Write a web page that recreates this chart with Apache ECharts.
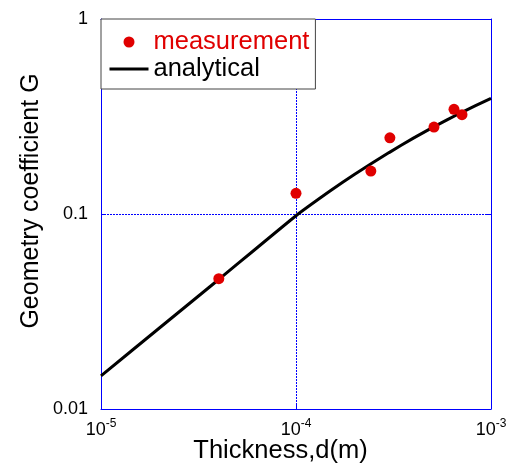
<!DOCTYPE html>
<html>
<head>
<meta charset="utf-8">
<script src="https://cdn.jsdelivr.net/npm/echarts@6/dist/echarts.min.js"></script>
<style>
html,body{margin:0;padding:0;background:#fff;}
#c{width:517px;height:463px;}
</style>
</head>
<body>
<div id="c"></div>
<script>
// Analytical curve: thickness d (m) and geometry coefficient G
const curveD = [1e-5, 2e-5, 4e-5, 1e-4, 1.5e-4, 2e-4, 3e-4, 4e-4, 5e-4, 7e-4, 1e-3];
const curveG = [0.0148, 0.0261, 0.046, 0.098, 0.1315, 0.160, 0.2065, 0.245, 0.2774, 0.3304, 0.392];
// Measurements
const measD = [4.02e-5, 1.0e-4, 2.42e-4, 3.03e-4, 5.1e-4, 6.46e-4, 7.1e-4];
const measG = [0.0466, 0.1276, 0.166, 0.246, 0.279, 0.344, 0.323];
// Tick labels
const xTickExp = {'-5': '-5', '-4': '-4', '-3': '-3'};
const yTickLabels = {'0.01': '0.01', '0.1': '0.1', '1': '1'};
const seriesNames = ['measurement', 'analytical'];

const FONT = '"Liberation Sans", Arial, sans-serif';
const BLUE = '#0000ff';
const RED = '#e00000';

const chart = echarts.init(document.getElementById('c'));
const axisCommon = {
  type: 'log', logBase: 10,
  axisLine: {show: true, lineStyle: {color: BLUE, width: 1}},
  axisTick: {show: true, inside: true, length: 5, lineStyle: {color: BLUE}},
  minorTick: {show: false},
  splitLine: {show: false}
};
chart.setOption({
  animation: false,
  backgroundColor: '#fff',
  grid: {left: 101, right: 26, top: 19, bottom: 54, show: false, containLabel: false, outerBoundsMode: 'none'},
  legend: {
    orient: 'vertical', left: 101, top: 19,
    backgroundColor: '#fff', borderColor: '#444', borderWidth: 1,
    padding: [10, 6, 7, 7], itemGap: 1, itemWidth: 39, itemHeight: 11,
    textStyle: {fontFamily: FONT, fontSize: 25.5, color: '#000'},
    data: [
      {name: seriesNames[0], icon: 'circle', textStyle: {color: RED}},
      {name: seriesNames[1], itemStyle: {opacity: 0}, lineStyle: {color: '#000', width: 3, opacity: 1}}
    ]
  },
  xAxis: [
    Object.assign({}, axisCommon, {
      min: 1e-5, max: 1e-3, position: 'bottom',
      splitLine: {show: true, lineStyle: {color: BLUE, type: [2, 1], width: 1}},
      axisLabel: {
        margin: 9,
        formatter: v => {
          const e = String(Math.round(Math.log10(v)));
          return '{a|10}{b|' + (xTickExp[e] || e) + '}';
        },
        rich: {
          a: {fontFamily: FONT, fontSize: 18, color: '#000'},
          b: {fontFamily: FONT, fontSize: 12, color: '#000', padding: [0, 0, 12, 0]}
        }
      },
      name: 'Thickness,d(m)', nameLocation: 'middle', nameGap: 29, nameMoveOverlap: false,
      nameTextStyle: {fontFamily: FONT, fontSize: 25.5, color: '#000', padding: [0, 31, 0, 0]}
    }),
    Object.assign({}, axisCommon, {
      min: 1e-5, max: 1e-3, position: 'top',
      axisLabel: {show: false}
    })
  ],
  yAxis: [
    Object.assign({}, axisCommon, {
      min: 0.01, max: 1, position: 'left',
      splitLine: {show: true, lineStyle: {color: BLUE, type: [2, 1], width: 1}},
      axisLabel: {
        margin: 13, fontFamily: FONT, fontSize: 18, color: '#000',
        formatter: v => {
          const k = String(+v.toPrecision(3));
          return yTickLabels[k] || k;
        }
      },
      name: 'Geometry coefficient G', nameLocation: 'middle', nameGap: 57, nameMoveOverlap: false,
      nameTextStyle: {fontFamily: FONT, fontSize: 25, color: '#000', padding: [0, 0, 0, 26]}
    }),
    Object.assign({}, axisCommon, {
      min: 0.01, max: 1, position: 'right',
      axisLabel: {show: false}
    })
  ],
  series: [
    {
      name: seriesNames[1], type: 'line', z: 3,
      data: curveD.map((d, i) => [d, curveG[i]]),
      smooth: 0.15, showSymbol: false, symbol: 'none',
      lineStyle: {color: '#000', width: 3},
      itemStyle: {color: '#000'}
    },
    {
      name: seriesNames[0], type: 'scatter', z: 4,
      data: measD.map((d, i) => [d, measG[i]]),
      symbol: 'circle', symbolSize: 11,
      itemStyle: {color: RED, opacity: 1}
    }
  ]
});
</script>
</body>
</html>
